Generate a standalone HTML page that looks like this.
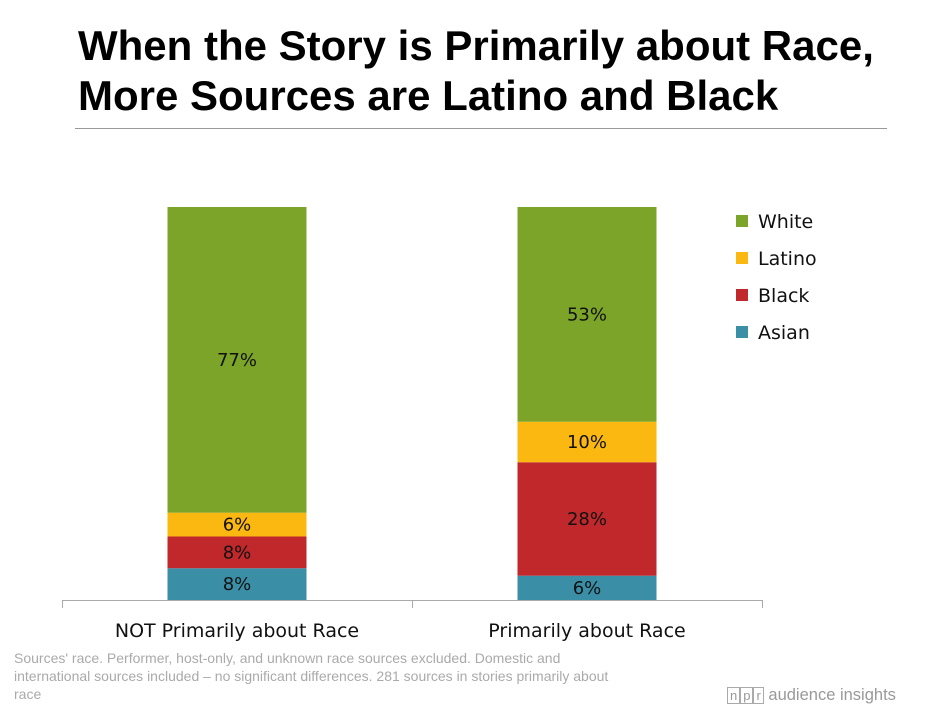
<!DOCTYPE html>
<html><head><meta charset="utf-8"><style>
body{margin:0;width:932px;height:709px;background:#fff;overflow:hidden;font-family:"Liberation Sans",sans-serif;position:relative}
#title{position:absolute;left:78px;top:21px;font-size:42px;font-weight:bold;line-height:50px;color:#000;margin:0;white-space:nowrap}
#rule{position:absolute;left:75px;top:128px;width:812px;height:1px;background:#999}
#note{position:absolute;left:14px;top:649px;width:625px;font-size:14px;line-height:18px;color:#aaa}
#logo{position:absolute;left:727px;top:686px;font-size:16.5px;color:#999}
#logo span.b{border:1px solid #aaa;padding:0 2px;font-size:13px}
svg{position:absolute;left:0;top:0}
</style></head><body>
<h1 id="title">When the Story is Primarily about Race,<br>More Sources are Latino and Black</h1>
<div id="rule"></div>
<svg id="chart" width="932" height="709"></svg>
<div id="note">Sources' race. Performer, host-only, and unknown race sources excluded. Domestic and international sources included – no significant differences. 281 sources in stories primarily about race</div>
<div id="logo"><span class="b">n</span><span class="b">p</span><span class="b">r</span> audience insights</div>
<script>
const categories=["NOT Primarily about Race","Primarily about Race"];
const series=["Asian","Black","Latino","White"];
const asian=[8,6];
const black=[8,28];
const latino=[6,10];
const white=[77,53];
const colors=["#3a8fa6","#c0282c","#fbb811","#7ba428"];
const svg=document.getElementById('chart');
const NS="http://www.w3.org/2000/svg";
function mk(t,a){const e=document.createElementNS(NS,t);for(const k in a)e.setAttribute(k,a[k]);svg.appendChild(e);return e;}
const base=600,top0=207,plotH=base-top0;
const x0=62,bandW=350,barW=139;
function bandX(i){return x0+i*bandW+(bandW-barW)/2;}
const vals=[asian,black,latino,white];
categories.forEach((c,i)=>{
  const total=vals.reduce((s,a)=>s+a[i],0);
  let y=base;
  vals.forEach((arr,si)=>{
    const h=arr[i]/total*plotH;
    const r=mk('rect',{x:bandX(i),y:y-h,width:barW,height:h,fill:colors[si]});
    
    
    const t=mk('text',{x:bandX(i)+barW/2,y:y-h/2+6,'text-anchor':'middle','font-size':18,fill:'#111','font-family':'DejaVu Sans, Liberation Sans, sans-serif'});
    t.textContent=arr[i]+'%';
    
    
    y-=h;
  });
  const ct=mk('text',{x:x0+i*bandW+bandW/2,y:637,'text-anchor':'middle','font-size':19,fill:'#111','font-family':'DejaVu Sans, Liberation Sans, sans-serif'});
  ct.textContent=c;
  
  
});
const ax=mk('line',{x1:x0,y1:base+0.5,x2:x0+2*bandW,y2:base+0.5,stroke:'#aaa'});


for(let i=0;i<=2;i++){
  const tk=mk('line',{x1:x0+i*bandW+0.5,y1:base,x2:x0+i*bandW+0.5,y2:608,stroke:'#aaa'});
  
  
}
const legendOrder=[3,2,1,0];
legendOrder.forEach((si,k)=>{
  const y=221+k*37;
  const sq=mk('rect',{x:736,y:y-6,width:12,height:12,fill:colors[si]});
  
  
  const t=mk('text',{x:758,y:y+7,'font-size':19,fill:'#111','font-family':'DejaVu Sans, Liberation Sans, sans-serif'});
  t.textContent=series[si];
  
  
});
</script>
</body></html>
